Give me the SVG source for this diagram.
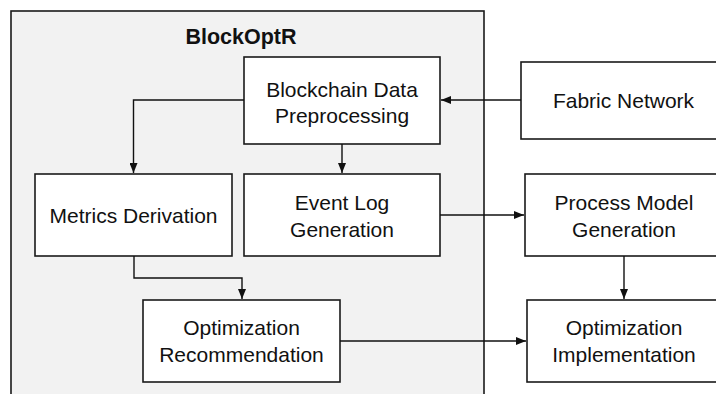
<svg xmlns="http://www.w3.org/2000/svg" width="716" height="394" viewBox="0 0 716 394">
  <defs>
    <marker id="arrow" viewBox="0 0 10 8" refX="10" refY="4" markerWidth="10" markerHeight="8" markerUnits="userSpaceOnUse" orient="auto">
      <path d="M0,0 L10,4 L0,8 Z" fill="#111"/>
    </marker>
    <style>
      .box { fill: #ffffff; stroke: #1a1a1a; stroke-width: 1.6; }
      .frame { fill: #f2f2f2; stroke: #1a1a1a; stroke-width: 1.6; }
      .label { font-family: "Liberation Sans", Arial, sans-serif; font-size: 21px; fill: #111; text-anchor: middle; }
      .title { font-family: "Liberation Sans", Arial, sans-serif; font-size: 21.5px; font-weight: bold; fill: #111; text-anchor: middle; }
      .edge { fill: none; stroke: #111; stroke-width: 1.4; marker-end: url(#arrow); }
    </style>
  </defs>

  <rect width="716" height="394" fill="#ffffff"/>

  <!-- BlockOptR container (open at the bottom) -->
  <g id="blockoptr">
    <rect class="frame" x="11" y="11" width="473" height="400"/>
    <text class="title" x="241" y="44">BlockOptR</text>
  </g>

  <g id="preprocessing">
    <rect class="box" x="244" y="57" width="196" height="87"/>
    <text class="label" x="342" y="97">Blockchain Data</text>
    <text class="label" x="342" y="123">Preprocessing</text>
  </g>

  <g id="fabric">
    <rect class="box" x="521" y="62" width="205" height="77"/>
    <text class="label" x="623.5" y="108">Fabric Network</text>
  </g>

  <g id="metrics">
    <rect class="box" x="35" y="174" width="197" height="82"/>
    <text class="label" x="133.5" y="223">Metrics Derivation</text>
  </g>

  <g id="eventlog">
    <rect class="box" x="244" y="174" width="196" height="82"/>
    <text class="label" x="342" y="210">Event Log</text>
    <text class="label" x="342" y="237">Generation</text>
  </g>

  <g id="processmodel">
    <rect class="box" x="525" y="174" width="199" height="82"/>
    <text class="label" x="624" y="210">Process Model</text>
    <text class="label" x="624" y="237">Generation</text>
  </g>

  <g id="recommendation">
    <rect class="box" x="143" y="300" width="197" height="82"/>
    <text class="label" x="241.5" y="335">Optimization</text>
    <text class="label" x="241.5" y="362">Recommendation</text>
  </g>

  <g id="implementation">
    <rect class="box" x="527" y="300" width="195" height="82"/>
    <text class="label" x="624" y="335">Optimization</text>
    <text class="label" x="624" y="362">Implementation</text>
  </g>

  <g id="connectors">
    <path class="edge" d="M521,100 H441"/>
    <path class="edge" d="M244,100 H133.5 V173"/>
    <path class="edge" d="M342,144 V173"/>
    <path class="edge" d="M134,256 V278 H242 V299"/>
    <path class="edge" d="M440,215 H524"/>
    <path class="edge" d="M624,256 V299"/>
    <path class="edge" d="M340,341 H526"/>
  </g>
</svg>
